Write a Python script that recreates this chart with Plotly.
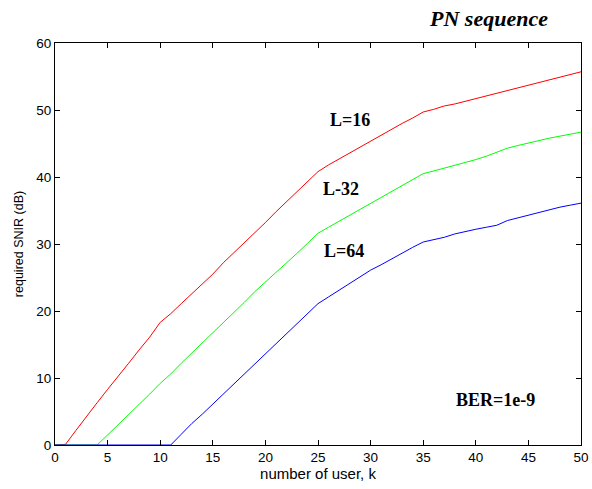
import plotly.graph_objects as go

k = list(range(0, 51))
snir_L16 = [0, 0.1, 2.2, 4.3, 6.3, 8.3, 10.2, 12.2, 14.2, 16.1, 18.3, 19.6, 21.1, 22.6, 24.0, 25.5,
            27.2, 28.7, 30.2, 31.6, 33.2, 34.8, 36.3, 37.8, 39.3, 40.8, 41.8, 42.7, 43.6, 44.5, 45.4,
            46.3, 47.2, 48.0, 48.8, 49.7, 50.1, 50.6, 50.9, 51.3, 51.7, 52.1, 52.5, 52.9, 53.3, 53.8,
            54.2, 54.6, 55.0, 55.4, 55.7]
snir_L32 = [0, 0, 0, 0, 0, 1.5, 3.0, 4.6, 6.1, 7.6, 9.2, 10.6, 12.2, 13.7, 15.2, 16.8,
            18.3, 19.8, 21.3, 22.9, 24.3, 25.8, 27.2, 28.6, 30.1, 31.6, 32.5, 33.4, 34.3, 35.2, 36.0,
            36.9, 37.8, 38.7, 39.6, 40.5, 40.9, 41.3, 41.7, 42.1, 42.6, 43.1, 43.7, 44.3, 44.7, 45.1,
            45.4, 45.8, 46.1, 46.4, 46.7]
snir_L64 = [0, 0, 0, 0, 0, 0, 0, 0, 0, 0, 0, 0, 1.6, 3.2, 4.6, 6.1,
            7.6, 9.1, 10.6, 12.2, 13.6, 15.2, 16.7, 18.2, 19.7, 21.1, 22.1, 23.1, 24.1, 25.1, 26.1,
            26.9, 27.8, 28.7, 29.5, 30.3, 30.6, 31.0, 31.5, 31.9, 32.2, 32.5, 32.8, 33.5, 33.9, 34.3,
            34.8, 35.2, 35.5, 35.8, 36.1]

x_ticks = list(range(0, 51, 5))
y_ticks = list(range(0, 61, 10))

fig = go.Figure()
fig.add_trace(go.Scatter(x=k, y=snir_L16, mode="lines", line=dict(color="#ff0000", width=1), name="L=16"))
fig.add_trace(go.Scatter(x=k, y=snir_L32, mode="lines", line=dict(color="#00ff00", width=1), name="L=32"))
fig.add_trace(go.Scatter(x=k, y=snir_L64, mode="lines", line=dict(color="#0000ff", width=1), name="L=64"))

axis_common = dict(showline=True, linecolor="black", linewidth=1, mirror="allticks",
                   ticks="inside", ticklen=5, tickcolor="black", showgrid=False, zeroline=False,
                   automargin=False,
                   tickfont=dict(family="Liberation Sans, Arial", size=13.5, color="black"))
fig.update_xaxes(range=[0, 50], tickvals=x_ticks, title=dict(text="number of user, k",
                 font=dict(family="Liberation Sans, Arial", size=15, color="black"), standoff=4),
                 **axis_common)
fig.update_yaxes(range=[0, 60], tickvals=y_ticks, title=dict(text="required SNIR (dB)",
                 font=dict(family="Liberation Sans, Arial", size=12.5, color="black"), standoff=9),
                 **axis_common)

serif_bold = dict(family="Liberation Serif, Times New Roman", size=18, color="black")
annos = [("<b>L=16</b>", 28.0, 48.5), ("<b>L-32</b>", 27.2, 38.2), ("<b>L=64</b>", 27.5, 29.0),
         ("<b>BER=1e-9</b>", 41.9, 6.7)]
for txt, ax_, ay_ in annos:
    fig.add_annotation(x=ax_, y=ay_, text=txt, showarrow=False, font=serif_bold,
                       xref="x", yref="y", xanchor="center", yanchor="middle")

fig.add_annotation(x=(488 - 55) / 526, y=1 + (43 - 18) / 402, xref="paper", yref="paper",
                   text="<b><i>PN sequence</i></b>", showarrow=False,
                   xanchor="center", yanchor="middle",
                   font=dict(family="Liberation Serif, Times New Roman", size=22, color="black"))

fig.update_layout(width=592, height=489, margin=dict(l=55, r=11, t=43, b=44),
                  paper_bgcolor="white", plot_bgcolor="white", showlegend=False)
fig.write_html("out.html")
